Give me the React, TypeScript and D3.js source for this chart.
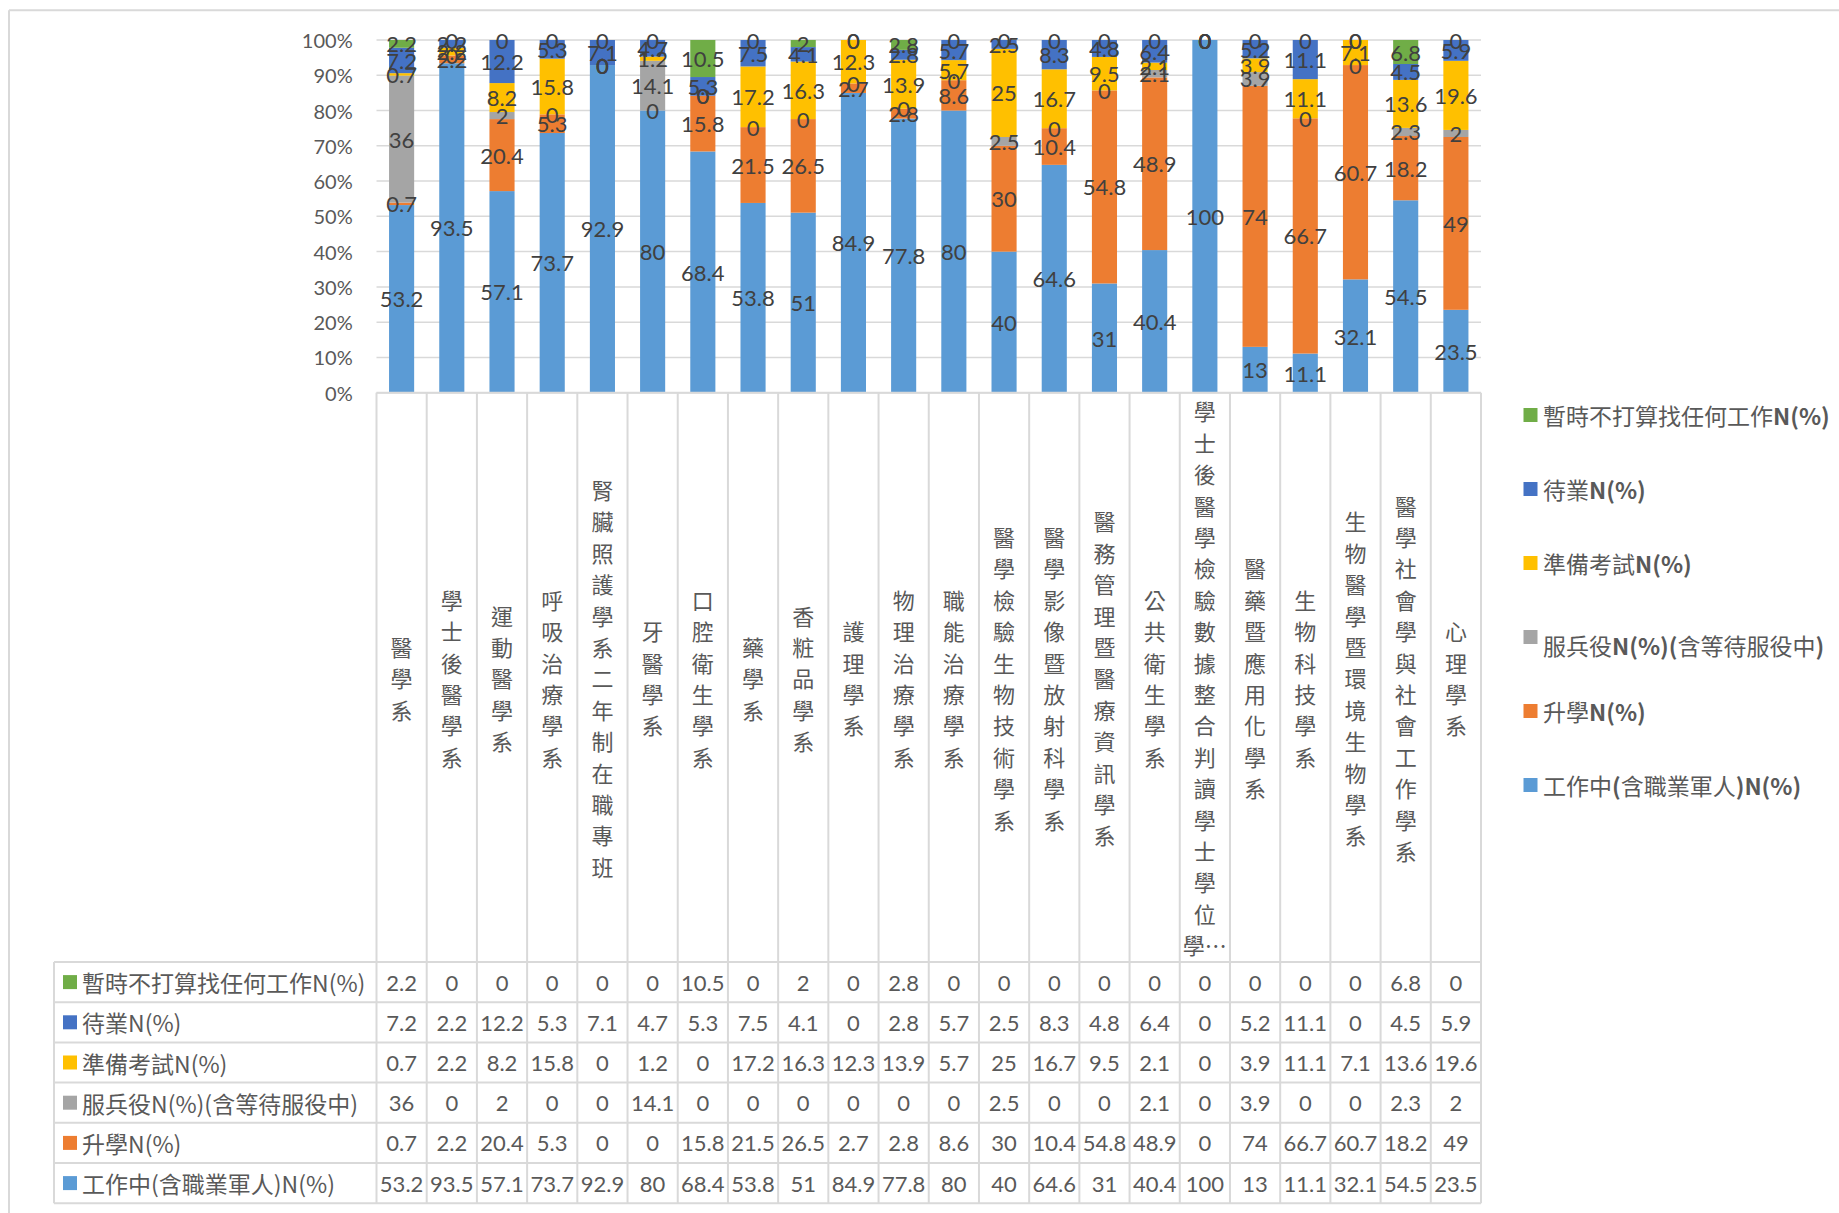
import * as d3 from "d3";

// departments (x categories)
const categories = [
  "醫學系",
  "學士後醫學系",
  "運動醫學系",
  "呼吸治療學系",
  "腎臟照護學系二年制在職專班",
  "牙醫學系",
  "口腔衛生學系",
  "藥學系",
  "香粧品學系",
  "護理學系",
  "物理治療學系",
  "職能治療學系",
  "醫學檢驗生物技術學系",
  "醫學影像暨放射科學系",
  "醫務管理暨醫療資訊學系",
  "公共衛生學系",
  "學士後醫學檢驗數據整合判讀學士學位學程",
  "醫藥暨應用化學系",
  "生物科技學系",
  "生物醫學暨環境生物學系",
  "醫學社會學與社會工作學系",
  "心理學系",
];

// series, bottom of the stack first
const working = [53.2, 93.5, 57.1, 73.7, 92.9, 80, 68.4, 53.8, 51, 84.9, 77.8, 80, 40, 64.6, 31, 40.4, 100, 13, 11.1, 32.1, 54.5, 23.5];
const further = [0.7, 2.2, 20.4, 5.3, 0, 0, 15.8, 21.5, 26.5, 2.7, 2.8, 8.6, 30, 10.4, 54.8, 48.9, 0, 74, 66.7, 60.7, 18.2, 49];
const military = [36, 0, 2, 0, 0, 14.1, 0, 0, 0, 0, 0, 0, 2.5, 0, 0, 2.1, 0, 3.9, 0, 0, 2.3, 2];
const exam = [0.7, 2.2, 8.2, 15.8, 0, 1.2, 0, 17.2, 16.3, 12.3, 13.9, 5.7, 25, 16.7, 9.5, 2.1, 0, 3.9, 11.1, 7.1, 13.6, 19.6];
const unemployed = [7.2, 2.2, 12.2, 5.3, 7.1, 4.7, 5.3, 7.5, 4.1, 0, 2.8, 5.7, 2.5, 8.3, 4.8, 6.4, 0, 5.2, 11.1, 0, 4.5, 5.9];
const notSeeking = [2.2, 0, 0, 0, 0, 0, 10.5, 0, 2, 0, 2.8, 0, 0, 0, 0, 0, 0, 0, 0, 0, 6.8, 0];

const seriesNames = [
  "工作中(含職業軍人)N(%)",
  "升學N(%)",
  "服兵役N(%)(含等待服役中)",
  "準備考試N(%)",
  "待業N(%)",
  "暫時不打算找任何工作N(%)",
];
const seriesValues = [working, further, military, exam, unemployed, notSeeking];
const seriesColors = ["#5B9BD5", "#ED7D31", "#A5A5A5", "#FFC000", "#4472C4", "#70AD47"];

const yTicks = [0, 0.1, 0.2, 0.3, 0.4, 0.5, 0.6, 0.7, 0.8, 0.9, 1];

const W = 1839;
const H = 1213;
const plotL = 376.5;
const plotR = 1481;
const plotT = 40;
const plotB = 392.7;
const tableTop = 962;
const rowH = 40.2;
const tableL = 54;
const LINE = "#D9D9D9";
const NUM_FONT = "Lato, 'Noto Sans', sans-serif";
const CJK_FONT = "'Noto Sans CJK TC', 'Noto Sans CJK SC', sans-serif";

function verticalLines(name: string) {
  const chars = Array.from(name);
  if (chars.length <= 18) return chars;
  return [...chars.slice(0, 17), chars[17] + "…"];
}

function boldLatin(text: string) {
  // legend shows latin part heavier
  const parts = text.match(/[\x00-\x7F]+|[^\x00-\x7F]+/g) || [];
  return parts.map((p, i) => (
    <tspan key={i} fontWeight={/[\x00-\x7F]/.test(p) ? 600 : 400}>
      {p}
    </tspan>
  ));
}

export default function App() {
  const n = categories.length;
  const keys = seriesNames.map((_, k) => "s" + k);
  const rows = categories.map((_, i) => {
    const r: Record<string, number> = {};
    keys.forEach((key, k) => (r[key] = seriesValues[k][i]));
    return r;
  });
  const stacked = d3.stack<Record<string, number>>().keys(keys).offset(d3.stackOffsetExpand)(rows);

  const x = d3
    .scaleBand<number>()
    .domain(d3.range(n))
    .range([plotL, plotR])
    .paddingInner(0.5)
    .paddingOuter(0.25);
  const y = d3.scaleLinear().domain([0, 1]).range([plotB, plotT]);
  const step = (plotR - plotL) / n;
  const cx = (i: number) => (x(i) as number) + x.bandwidth() / 2;
  const fmt = d3.format(".0%");

  const tableRows = seriesNames.map((_, k) => k).reverse();
  const tableBottom = tableTop + rowH * tableRows.length;
  const catMid = (plotB + tableTop) / 2;
  const lineStep = 31.4;

  return (
    <svg
      width={W}
      height={H}
      style={{ position: "absolute", left: 0, top: 0, display: "block", background: "#fff" }}
    >
      {/* chart area border (top/left visible) */}
      <line x1={9} y1={10.3} x2={W} y2={10.3} stroke={LINE} strokeWidth={2} />
      <line x1={9} y1={10.3} x2={9} y2={H} stroke={LINE} strokeWidth={2} />

      {/* gridlines */}
      {yTicks.map((t) => (
        <line key={t} x1={plotL} x2={plotR} y1={y(t)} y2={y(t)} stroke={LINE} strokeWidth={1.5} />
      ))}
      {yTicks.map((t) => (
        <text
          key={"l" + t}
          x={352.7}
          y={y(t)}
          textAnchor="end"
          dominantBaseline="central"
          fontFamily={NUM_FONT}
          fontSize={20}
          fill="#595959"
        >
          {fmt(t)}
        </text>
      ))}

      {/* bars */}
      {stacked.map((layer, k) => (
        <g key={layer.key} fill={seriesColors[k]}>
          {layer.map((d, i) => (
            <rect key={i} x={x(i)} width={x.bandwidth()} y={y(d[1])} height={Math.max(0, y(d[0]) - y(d[1]))} />
          ))}
        </g>
      ))}

      {/* data labels */}
      {stacked.map((layer, k) => (
        <g key={"dl" + layer.key} fontFamily={NUM_FONT} fontSize={22} fill="#404040" textAnchor="middle">
          {layer.map((d, i) => (
            <text key={i} x={cx(i)} y={(y(d[0]) + y(d[1])) / 2} dominantBaseline="central">
              {seriesValues[k][i]}
            </text>
          ))}
        </g>
      ))}

      {/* category / table grid */}
      <line x1={plotL} x2={plotR} y1={plotB} y2={plotB} stroke={LINE} strokeWidth={2} />
      {d3.range(n + 1).map((j) => (
        <line
          key={"v" + j}
          x1={plotL + j * step}
          x2={plotL + j * step}
          y1={plotB}
          y2={tableBottom}
          stroke={LINE}
          strokeWidth={2}
        />
      ))}
      <line x1={tableL} x2={tableL} y1={tableTop} y2={tableBottom} stroke={LINE} strokeWidth={2} />
      {d3.range(tableRows.length + 1).map((r) => (
        <line
          key={"h" + r}
          x1={tableL}
          x2={plotR}
          y1={tableTop + r * rowH}
          y2={tableTop + r * rowH}
          stroke={LINE}
          strokeWidth={2}
        />
      ))}

      {/* vertical category labels */}
      {categories.map((c, i) => {
        const lines = verticalLines(c);
        const y0 = catMid - ((lines.length - 1) / 2) * lineStep;
        return (
          <text
            key={"c" + i}
            fontFamily={CJK_FONT}
            fontSize={22}
            fill="#595959"
            textAnchor="middle"
            dominantBaseline="central"
          >
            {lines.map((ch, m) => (
              <tspan key={m} x={plotL + (i + 0.5) * step} y={y0 + m * lineStep}>
                {ch}
              </tspan>
            ))}
          </text>
        );
      })}

      {/* data table */}
      {tableRows.map((k, r) => {
        const yc = tableTop + (r + 0.5) * rowH;
        return (
          <g key={"t" + k}>
            <rect x={63} y={yc - 7} width={14} height={14} fill={seriesColors[k]} />
            <text
              x={82}
              y={yc}
              dominantBaseline="central"
              fontFamily={CJK_FONT}
              fontSize={23}
              fill="#595959"
            >
              {seriesNames[k]}
            </text>
            {seriesValues[k].map((v, i) => (
              <text
                key={i}
                x={plotL + (i + 0.5) * step}
                y={yc}
                textAnchor="middle"
                dominantBaseline="central"
                fontFamily={NUM_FONT}
                fontSize={22}
                fill="#595959"
              >
                {v}
              </text>
            ))}
          </g>
        );
      })}

      {/* legend */}
      {tableRows.map((k, r) => {
        const yc = 415 + r * 74;
        const ty = k === 2 ? yc + 8 : yc;
        return (
          <g key={"lg" + k}>
            <rect x={1523.5} y={yc - 7} width={14} height={14} fill={seriesColors[k]} />
            <text
              x={1543}
              y={ty}
              dominantBaseline="central"
              fontFamily={CJK_FONT}
              fontSize={23}
              fill="#595959"
            >
              {boldLatin(seriesNames[k])}
            </text>
          </g>
        );
      })}
    </svg>
  );
}
